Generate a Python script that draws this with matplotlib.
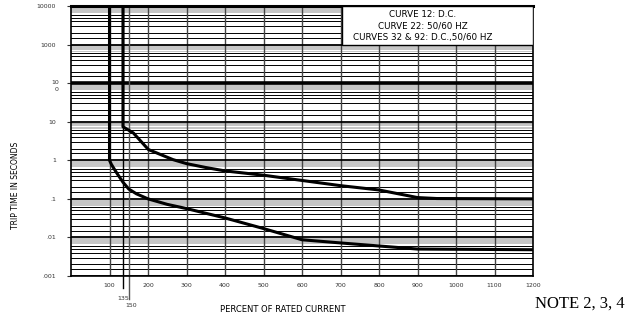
import numpy as np
import matplotlib
matplotlib.use('Agg')
import matplotlib.pyplot as plt
from matplotlib.patches import Rectangle

# curve data (percent of rated current, seconds)
lower_x = [100, 100, 105, 112, 120, 135, 150, 170, 200, 250, 300, 400, 500, 600, 700, 800, 900, 1200]
lower_y = [10000, 1, 0.78, 0.6, 0.45, 0.27, 0.18, 0.135, 0.1, 0.072, 0.056, 0.032, 0.017, 0.0087, 0.0072, 0.006, 0.005, 0.0048]
upper_x = [135, 135, 162, 201, 265, 300, 350, 400, 500, 600, 700, 800, 900, 950, 1200]
upper_y = [10000, 7.4, 5.1, 1.9, 1.04, 0.82, 0.65, 0.53, 0.41, 0.30, 0.22, 0.17, 0.108, 0.102, 0.1]

x_ticks = [100, 200, 300, 400, 500, 600, 700, 800, 900, 1000, 1100, 1200]
y_ticks = [0.001, 0.01, 0.1, 1, 10, 100, 1000, 10000]
y_labels = ['.001', '.01', '.1', '1', '10', '', '1000', '10000']
legend_lines = ['CURVE 12: D.C.', 'CURVE 22: 50/60 HZ', 'CURVES 32 & 92: D.C.,50/60 HZ']

fig = plt.figure(figsize=(6.32, 3.19), dpi=100)
ax = fig.add_axes([71/632, 43/319, 462/632, 270/319])
ax.set_yscale('log')
ax.set_xlim(0, 1200)
ax.set_ylim(0.001, 10000)

# log paper grid
for dec in range(-3, 4):
    base = 10.0 ** dec
    for m in [7, 7.5, 8, 8.5, 9, 9.5]:
        ax.axhline(m * base, color='#a5a5a5', lw=0.45, zorder=1)
    for m in [1.5, 2, 3, 4, 5, 6]:
        ax.axhline(m * base, color='black', lw=0.7, zorder=1)
for v in y_ticks[:-1]:
    ax.axhline(v, color='black', lw=2.6 if v == 100 else 1.3, zorder=2)
for v in x_ticks[:-1]:
    ax.axvline(v, color='#444444', lw=1.0, zorder=1)

ax.axvline(135, ymin=-0.044, ymax=1, color='black', lw=1.0, clip_on=False, zorder=2)
ax.axvline(150, ymin=-0.085, ymax=1, color='#555555', lw=1.0, clip_on=False, zorder=2)

ax.plot(lower_x, lower_y, color='black', lw=2.2, zorder=5)
ax.plot(upper_x, upper_y, color='black', lw=2.2, zorder=5)

for s in ['left', 'bottom', 'right']:
    ax.spines[s].set_linewidth(1.2)
ax.spines['top'].set_linewidth(2.2)

ax.set_xticks(x_ticks)
ax.set_xticklabels([str(v) for v in x_ticks], fontsize=4.5, color='#333333')
ax.tick_params(axis='x', length=0, pad=5)
ax.set_yticks(y_ticks)
ax.set_yticklabels(y_labels, fontsize=4.5, color='#333333')
ax.yaxis.set_minor_locator(matplotlib.ticker.NullLocator())
ax.tick_params(axis='y', length=3, width=0.8, color='#333333', pad=8)

ax.annotate('10\n0', xy=(0, 100), xycoords=('axes fraction', 'data'),
            xytext=(-8.7, 2.5), textcoords='offset points', ha='right', va='top',
            multialignment='right', fontsize=4.5, color='#333333', linespacing=1.6)
ax.annotate('135', xy=(135, 0.001), xytext=(0, -16), textcoords='offset points',
            ha='center', va='center', fontsize=4.5, color='#333333', annotation_clip=False)
ax.annotate('150', xy=(150, 0.001), xytext=(2, -21), textcoords='offset points',
            ha='center', va='center', fontsize=4.5, color='#333333', annotation_clip=False)

# legend box
ax.add_patch(Rectangle((0.5866, 0.8556), 0.4134, 0.1444, transform=ax.transAxes,
                       facecolor='white', edgecolor='black', lw=1.0, zorder=6))
for i, t in enumerate(legend_lines):
    ax.text(0.762, [0.967, 0.926, 0.884][i], t, transform=ax.transAxes, ha='center',
            va='center', fontsize=6.3, zorder=7)

fig.text(16/632, 0.42, 'TRIP TIME IN SECONDS', rotation=90, ha='center', va='center', fontsize=5.5)
fig.text(283/632, 1 - 310/319, 'PERCENT OF RATED CURRENT', ha='center', va='center', fontsize=6)
fig.text(535/632, 1 - 304/319, 'NOTE 2, 3, 4', ha='left', va='center', fontsize=12,
         family='Liberation Serif')

fig.savefig('out.png', dpi=100)
